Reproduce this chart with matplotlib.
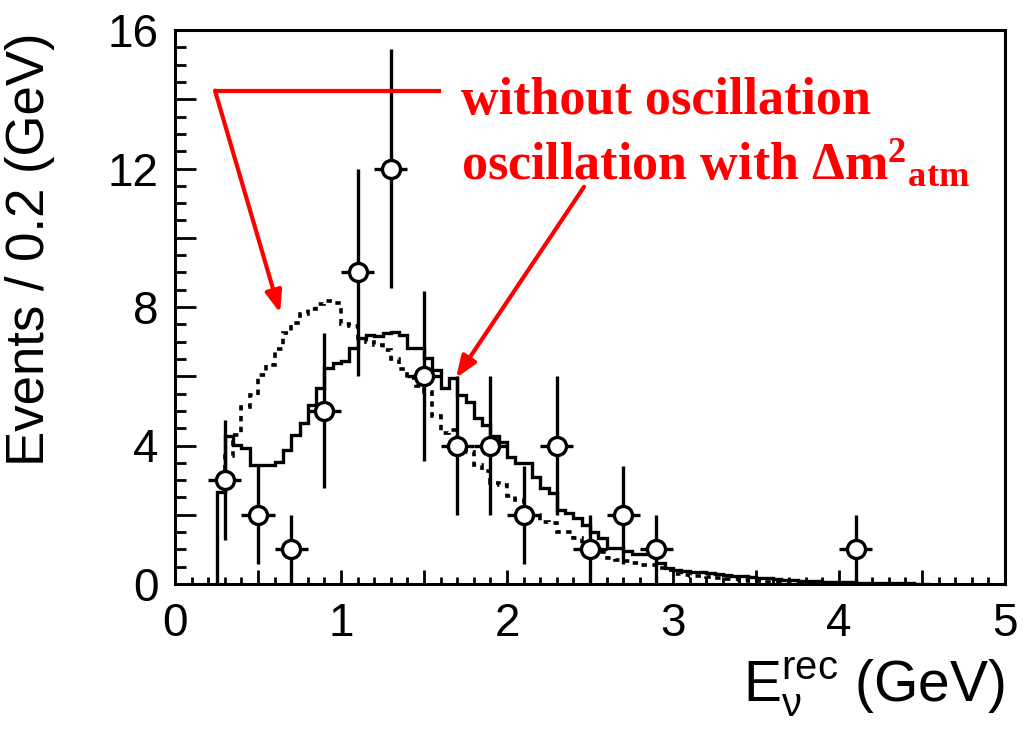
import numpy as np
import matplotlib
matplotlib.use("Agg")
import matplotlib.pyplot as plt
from matplotlib.ticker import MultipleLocator, FuncFormatter

plt.rcParams['font.family'] = ['Liberation Sans', 'DejaVu Sans']
plt.rcParams['mathtext.fontset'] = 'custom'
plt.rcParams['mathtext.rm'] = 'Liberation Sans'
plt.rcParams['mathtext.it'] = 'Liberation Sans:italic'
plt.rcParams['mathtext.bf'] = 'Liberation Serif:bold'

# ---------------- data ----------------
hist_start = 0.25
bin_width = 0.05

osc_values = [2.67, 4.26, 4.02, 3.92, 3.44, 3.44, 3.44, 3.53, 3.87, 4.31,
              4.66, 5.17, 5.66, 6.23, 6.38, 6.43, 6.81, 7.10, 7.20, 7.15,
              7.25, 7.29, 7.20, 6.81, 6.81, 6.52, 6.18, 5.66, 5.95, 5.46,
              5.27, 4.79, 4.60, 4.26, 4.11, 3.68, 3.49, 3.49, 3.10, 2.77,
              2.62, 2.14, 2.04, 1.90, 1.71, 1.51, 1.32, 1.03, 1.03, 0.95,
              0.88, 0.86, 0.86, 0.62, 0.45, 0.40, 0.38, 0.36, 0.34, 0.31,
              0.29, 0.26, 0.24, 0.22, 0.20, 0.18, 0.16, 0.14, 0.12, 0.11,
              0.10, 0.09, 0.08, 0.07, 0.06, 0.05, 0.05, 0.04, 0.04, 0.03,
              0.03, 0.02, 0.02, 0.02, 0.01, 0.01]

noosc_values = [2.90, 3.70, 4.30, 5.10, 5.45, 6.04, 6.33, 6.80, 7.25, 7.55,
                7.80, 7.95, 8.10, 8.18, 8.12, 7.50, 7.45, 7.10, 7.00, 6.90,
                6.75, 6.50, 6.20, 5.95, 5.72, 5.55, 4.85, 4.35, 4.45, 3.85,
                3.80, 3.44, 3.25, 2.91, 2.86, 2.53, 2.43, 2.14, 1.98, 1.80,
                1.76, 1.51, 1.51, 1.32, 1.03, 1.00, 0.93, 0.74, 0.69, 0.65,
                0.60, 0.55, 0.55, 0.45, 0.40, 0.28, 0.26, 0.24, 0.22, 0.20,
                0.17, 0.15, 0.13, 0.11, 0.10, 0.08, 0.07, 0.06, 0.05, 0.04,
                0.04, 0.03, 0.03, 0.02, 0.02, 0.02, 0.01]

data_x = [0.3, 0.5, 0.7, 0.9, 1.1, 1.3, 1.5, 1.7, 1.9, 2.1, 2.3, 2.5, 2.7, 2.9, 4.1]
data_y = [3, 2, 1, 5, 9, 12, 6, 4, 4, 2, 4, 1, 2, 1, 1]
data_xerr = 0.1

x_tick_labels = ['0', '1', '2', '3', '4', '5']
y_tick_labels = ['0', '4', '8', '12', '16']

# ---------------- figure ----------------
fig = plt.figure(figsize=(10.23, 7.30), dpi=100)
ax = fig.add_axes([175/1023, 1-584/730, (1005-175)/1023, (584-30)/730])

osc_edges = hist_start + bin_width*np.arange(len(osc_values)+1)
noosc_edges = hist_start + bin_width*np.arange(len(noosc_values)+1)

ax.stairs(noosc_values, noosc_edges, baseline=None, color='black', lw=2.6,
          linestyle=(0, (1.5, 1.5)), zorder=2)
ax.stairs(osc_values, osc_edges, baseline=0, color='black', lw=2.4, zorder=3)

yerr = np.sqrt(np.array(data_y, dtype=float))
ax.errorbar(data_x, data_y, xerr=data_xerr, yerr=yerr, fmt='o', ms=13,
            mfc='white', mec='black', mew=2.4, ecolor='black', elinewidth=2.4,
            capsize=0, color='black', zorder=5)

ax.set_xlim(0, 5)
ax.set_ylim(0, 16)

ax.xaxis.set_major_locator(MultipleLocator(0.5))
ax.xaxis.set_minor_locator(MultipleLocator(0.1))
ax.yaxis.set_major_locator(MultipleLocator(2))
ax.yaxis.set_minor_locator(MultipleLocator(0.5))

def xfmt(v, pos):
    for lab in x_tick_labels:
        if abs(v - float(lab)) < 1e-6:
            return lab
    return ''

def yfmt(v, pos):
    for lab in y_tick_labels:
        if abs(v - float(lab)) < 1e-6:
            return lab
    return ''

ax.xaxis.set_major_formatter(FuncFormatter(xfmt))
ax.yaxis.set_major_formatter(FuncFormatter(yfmt))

ax.tick_params(axis='both', which='both', direction='in', top=False, right=False,
               width=2, labelsize=33)
ax.tick_params(axis='x', which='major', length=10, pad=13)
ax.tick_params(axis='x', which='minor', length=5)
ax.tick_params(axis='y', which='major', length=15, pad=12)
ax.tick_params(axis='y', which='minor', length=8)
for s in ax.spines.values():
    s.set_linewidth(2.2)

ax.set_ylabel('Events / 0.2 (GeV)', fontsize=38)
ax.yaxis.set_label_coords(-0.145, 0.605)

fig.text(1005/1023, 1-702/730, r'E$_{\mathrm{\nu}}^{\mathrm{rec}}$ (GeV)', fontsize=41,
         ha='right', va='baseline')

# ---------------- annotations ----------------
red = '#ff0000'
serif = ['Liberation Serif', 'DejaVu Serif']
ax.text(1.723, 13.58, 'without oscillation', color=red, fontsize=37.5,
        fontweight='bold', family=serif, va='baseline', ha='left')
ax.text(1.723, 11.71, r'oscillation with $\mathbf{\Delta m^{2}{}_{atm}}$', color=red,
        fontsize=37.5, fontweight='bold', family=serif, va='baseline', ha='left')

ax.plot([1.60, 0.241], [14.25, 14.25], color=red, lw=3, solid_capstyle='butt', zorder=6)
arrow_kw = dict(arrowstyle='-|>,head_length=0.65,head_width=0.25', color=red,
                lw=3, mutation_scale=20, shrinkA=0, shrinkB=0)
ax.annotate('', xy=(0.633, 7.83), xytext=(0.241, 14.25), arrowprops=arrow_kw, zorder=6)
ax.annotate('', xy=(1.693, 5.95), xytext=(2.464, 11.47), arrowprops=arrow_kw, zorder=6)

fig.savefig('out.png', dpi=100)
